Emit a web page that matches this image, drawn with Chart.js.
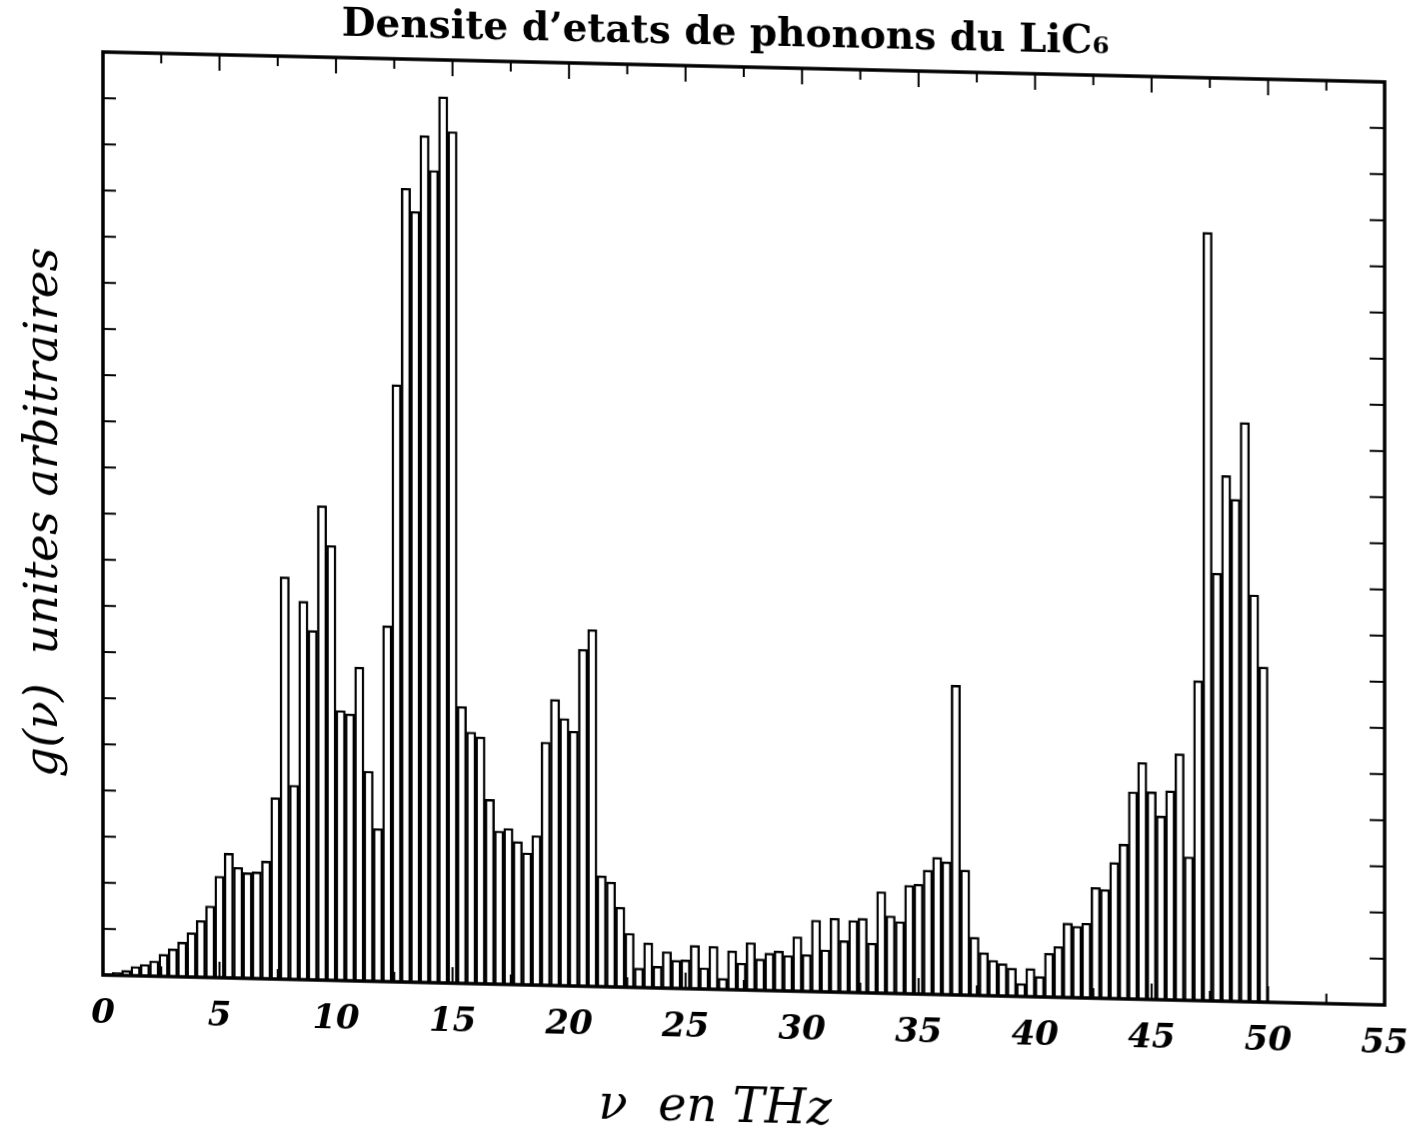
<!DOCTYPE html>
<html lang="fr">
<head>
<meta charset="utf-8">
<title>Densite d'etats de phonons du LiC6</title>
<script src="https://cdn.jsdelivr.net/npm/chart.js@4.4.1/dist/chart.umd.min.js"></script>
<style>
  html, body { margin: 0; padding: 0; background: #fff; }
  #wrap { width: 1416px; height: 1131px; overflow: hidden; }
  /* the scanned figure is slightly sheared: right side sits ~30px lower */
  #dos { display: block; transform: skewY(1.34deg); transform-origin: 103px 0; }
</style>
</head>
<body>
<div id="wrap"><canvas id="dos" width="1416" height="1131"></canvas></div>
<script>
// bin centres (THz), bins are 0.4 THz wide
const frequencies = [
  0.2, 0.6, 1.0, 1.4, 1.8, 2.2, 2.6, 3.0, 3.4, 3.8,
  4.2, 4.6, 5.0, 5.4, 5.8, 6.2, 6.6, 7.0, 7.4, 7.8,
  8.2, 8.6, 9.0, 9.4, 9.8, 10.2, 10.6, 11.0, 11.4, 11.8,
  12.2, 12.6, 13.0, 13.4, 13.8, 14.2, 14.6, 15.0, 15.4, 15.8,
  16.2, 16.6, 17.0, 17.4, 17.8, 18.2, 18.6, 19.0, 19.4, 19.8,
  20.2, 20.6, 21.0, 21.4, 21.8, 22.2, 22.6, 23.0, 23.4, 23.8,
  24.2, 24.6, 25.0, 25.4, 25.8, 26.2, 26.6, 27.0, 27.4, 27.8,
  28.2, 28.6, 29.0, 29.4, 29.8, 30.2, 30.6, 31.0, 31.4, 31.8,
  32.2, 32.6, 33.0, 33.4, 33.8, 34.2, 34.6, 35.0, 35.4, 35.8,
  36.2, 36.6, 37.0, 37.4, 37.8, 38.2, 38.6, 39.0, 39.4, 39.8,
  40.2, 40.6, 41.0, 41.4, 41.8, 42.2, 42.6, 43.0, 43.4, 43.8,
  44.2, 44.6, 45.0, 45.4, 45.8, 46.2, 46.6, 47.0, 47.4, 47.8,
  48.2, 48.6, 49.0, 49.4, 49.8
];

// g(nu), arbitrary units (one unit = one tick on the vertical axis)
const density = [
  0.03, 0.06, 0.11, 0.20, 0.25, 0.33, 0.48, 0.60, 0.75, 0.96,
  1.23, 1.55, 2.20, 2.70, 2.40, 2.29, 2.31, 2.55, 3.93, 8.72,
  4.21, 8.20, 7.57, 10.28, 9.42, 5.85, 5.78, 6.80, 4.55, 3.31,
  7.71, 12.94, 17.20, 16.70, 18.35, 17.60, 19.20, 18.45, 6.00, 5.45,
  5.35, 4.00, 3.32, 3.38, 3.10, 2.86, 3.24, 5.27, 6.20, 5.79,
  5.52, 7.30, 7.73, 2.40, 2.27, 1.73, 1.17, 0.42, 0.97, 0.47,
  0.79, 0.61, 0.62, 0.94, 0.46, 0.93, 0.24, 0.84, 0.58, 1.03,
  0.68, 0.81, 0.86, 0.77, 1.18, 0.80, 1.55, 0.91, 1.60, 1.12,
  1.56, 1.61, 1.08, 2.20, 1.68, 1.56, 2.35, 2.38, 2.69, 2.97,
  2.88, 6.71, 2.71, 1.26, 0.93, 0.77, 0.70, 0.61, 0.28, 0.61,
  0.44, 0.95, 1.10, 1.61, 1.55, 1.62, 2.40, 2.36, 2.95, 3.35,
  4.49, 5.13, 4.50, 3.98, 4.53, 5.34, 3.11, 6.93, 16.65, 9.27,
  11.39, 10.88, 12.55, 8.82, 7.26
];

const xTickValues = [0, 5, 10, 15, 20, 25, 30, 35, 40, 45, 50, 55];

const serif = '"DejaVu Serif", "Liberation Serif", serif';

// box round the plot with inward tick marks on all four sides
const framePlugin = {
  id: "frame",
  afterDatasetsDraw(chart) {
    const { ctx, chartArea: a, scales } = chart;
    const line = (x1, y1, x2, y2) => {
      ctx.beginPath();
      ctx.moveTo(x1, y1);
      ctx.lineTo(x2, y2);
      ctx.stroke();
    };
    ctx.save();
    ctx.strokeStyle = "#000";
    ctx.lineWidth = 2;
    for (let v = 2.5; v < 55; v += 2.5) {
      const px = scales.x.getPixelForValue(v);
      const len = v % 5 === 0 ? 16 : 10;
      line(px, a.top, px, a.top + len);
      line(px, a.bottom, px, a.bottom - len);
    }
    for (let v = 1; v < 20; v++) {
      const py = scales.y.getPixelForValue(v);
      line(a.left, py, a.left + 13, py);
      line(a.right, py, a.right - 15, py);
    }
    ctx.lineWidth = 3.5;
    ctx.strokeRect(a.left, a.top, a.right - a.left, a.bottom - a.top);
    ctx.restore();
  },
};

new Chart(document.getElementById("dos"), {
  type: "bar",
  data: {
    datasets: [
      {
        label: "g(\u03bd)",
        data: frequencies.map((f, i) => ({ x: f, y: density[i] })),
        backgroundColor: "#fff",
        borderColor: "#000",
        borderWidth: 2.4,
        barPercentage: 1,
        categoryPercentage: 1,
      },
    ],
  },
  options: {
    responsive: false,
    animation: false,
    devicePixelRatio: 1,
    layout: { padding: { left: 0, right: 31, top: 0, bottom: 0 } },
    plugins: {
      legend: { display: false },
      tooltip: { enabled: false },
      title: {
        display: true,
        text: "\u2003\u2002\u2009Densite d\u2019etats de phonons du LiC\u2086",
        color: "#000",
        font: { family: serif, size: 39, weight: "bold", lineHeight: 1 },
        padding: { top: 0, bottom: 13 },
      },
    },
    scales: {
      x: {
        type: "linear",
        min: 0,
        max: 55,
        offset: false,
        grid: { display: false, drawTicks: false },
        border: { display: false },
        ticks: {
          color: "#000",
          padding: 19,
          maxRotation: 0,
          autoSkip: false,
          font: { family: serif, size: 34, style: "italic", weight: "bold", lineHeight: 1.2 },
        },
        afterBuildTicks: (s) => {
          s.ticks = xTickValues.map((v) => ({ value: v }));
        },
        afterFit: (s) => {
          s.height = 156;
          s.paddingLeft = 0;
          s.paddingRight = 0;
        },
        title: {
          display: true,
          text: "\u03bd  en THz\u2003\u2009",
          color: "#000",
          font: { family: serif, size: 48, style: "italic", lineHeight: 1.2 },
          padding: { top: 0, bottom: 8 },
        },
      },
      y: {
        min: 0,
        max: 20,
        grid: { display: false, drawTicks: false },
        border: { display: false },
        ticks: { display: false },
        afterFit: (s) => {
          s.width = 103;
        },
        title: {
          display: true,
          text: "g(\u03bd)  unites arbitraires",
          color: "#000",
          font: { family: serif, size: 46, style: "italic", lineHeight: 1.2 },
          padding: { top: 17, bottom: 0 },
        },
      },
    },
  },
  plugins: [framePlugin],
});
</script>
</body>
</html>
